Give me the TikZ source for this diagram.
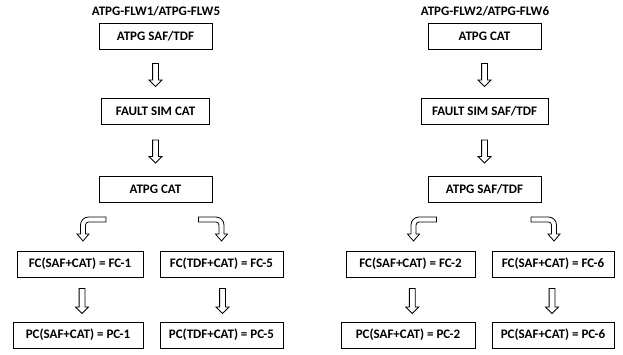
\documentclass[tikz,border=0pt]{standalone}
\usepackage{fontspec}
\setmainfont{Carlito}
\usetikzlibrary{positioning,calc,shapes.arrows}
\tikzset{
    every picture/.style={line width=0.8pt},
    box/.style={draw,minimum height=26pt,inner sep=0pt,font=\bfseries\fontsize{13}{15}\selectfont},
    flowtitle/.style={inner sep=0pt,font=\bfseries\fontsize{13}{15}\selectfont},
    downarrow/.style={single arrow,draw,fill=white,rotate=-90,minimum height=23pt,
        minimum width=12pt,inner sep=2.5pt,single arrow head extend=3.5pt},
    bendleft/.pic={
        \draw[fill=white,line join=miter] (-2.5,7) -- (-2.5,16) arc[start angle=180,end angle=90,radius=8]
            -- (23,24) -- (23,19) -- (5.5,19) arc[start angle=90,end angle=180,radius=3]
            -- (2.5,7) -- (6,7) -- (0,0) -- (-6,7) -- cycle;
    },
    bendright/.pic={
        \begin{scope}[xscale=-1]
        \draw[fill=white,line join=miter] (-2.5,7) -- (-2.5,16) arc[start angle=180,end angle=90,radius=8]
            -- (23,24) -- (23,19) -- (5.5,19) arc[start angle=90,end angle=180,radius=3]
            -- (2.5,7) -- (6,7) -- (0,0) -- (-6,7) -- cycle;
        \end{scope}
    }
}
\begin{document}
\begin{tikzpicture}[x=1pt,y=1pt]
    \useasboundingbox (0,0) rectangle (623,-354);

    % Left flow
    \node[flowtitle] (t1) at (156,-11) {ATPG-FLW1/ATPG-FLW5};
    \node[box,minimum width=113pt] (l1) at (155.5,-36) {ATPG SAF/TDF};
    \node[box,minimum width=108pt] (l2) at (155.5,-111) {FAULT SIM CAT};
    \node[box,minimum width=113pt] (l3) at (155.5,-189) {ATPG CAT};
    \node[box,minimum width=126pt] (fc1) at (80,-264) {FC(SAF+CAT) = FC-1};
    \node[box,minimum width=123pt] (fc5) at (221.5,-264) {FC(TDF+CAT) = FC-5};
    \node[box,minimum width=130pt] (pc1) at (78,-335) {PC(SAF+CAT) = PC-1};
    \node[box,minimum width=123pt] (pc5) at (221.5,-335) {PC(TDF+CAT) = PC-5};

    \node[downarrow] (a1) at ($(l1.south)!0.5!(l2.north)$) {};
    \node[downarrow] (a2) at ($(l2.south)!0.5!(l3.north)$) {};
    \coordinate (k1) at (83,-241);
    \coordinate (k5) at (221.5,-241);
    \pic at (k1) {bendleft};
    \pic at (k5) {bendright};
    \node[downarrow,minimum height=25pt] (a3) at ($(fc1.south)!0.5!(pc1.north)+(3,0)$) {};
    \node[downarrow,minimum height=25pt] (a4) at ($(fc5.south)!0.5!(pc5.north)+(1,0)$) {};

    % Right flow
    \node[flowtitle] (t2) at (485,-11) {ATPG-FLW2/ATPG-FLW6};
    \node[box,minimum width=113pt] (r1) at (484.5,-36) {ATPG CAT};
    \node[box,minimum width=127pt] (r2) at (484.5,-111) {FAULT SIM SAF/TDF};
    \node[box,minimum width=113pt] (r3) at (484.5,-189) {ATPG SAF/TDF};
    \node[box,minimum width=129pt] (fc2) at (410.5,-264) {FC(SAF+CAT) = FC-2};
    \node[box,minimum width=122pt] (fc6) at (553,-264) {FC(SAF+CAT) = FC-6};
    \node[box,minimum width=134pt] (pc2) at (408,-335) {PC(SAF+CAT) = PC-2};
    \node[box,minimum width=122pt] (pc6) at (553,-335) {PC(SAF+CAT) = PC-6};

    \node[downarrow] (b1) at ($(r1.south)!0.5!(r2.north)$) {};
    \node[downarrow] (b2) at ($(r2.south)!0.5!(r3.north)$) {};
    \coordinate (k2) at (413.5,-241);
    \coordinate (k6) at (554,-241);
    \pic at (k2) {bendleft};
    \pic at (k6) {bendright};
    \node[downarrow,minimum height=25pt] (b3) at ($(fc2.south)!0.5!(pc2.north)+(3,0)$) {};
    \node[downarrow,minimum height=25pt] (b4) at ($(fc6.south)!0.5!(pc6.north)+(-1,0)$) {};
\end{tikzpicture}
\end{document}
